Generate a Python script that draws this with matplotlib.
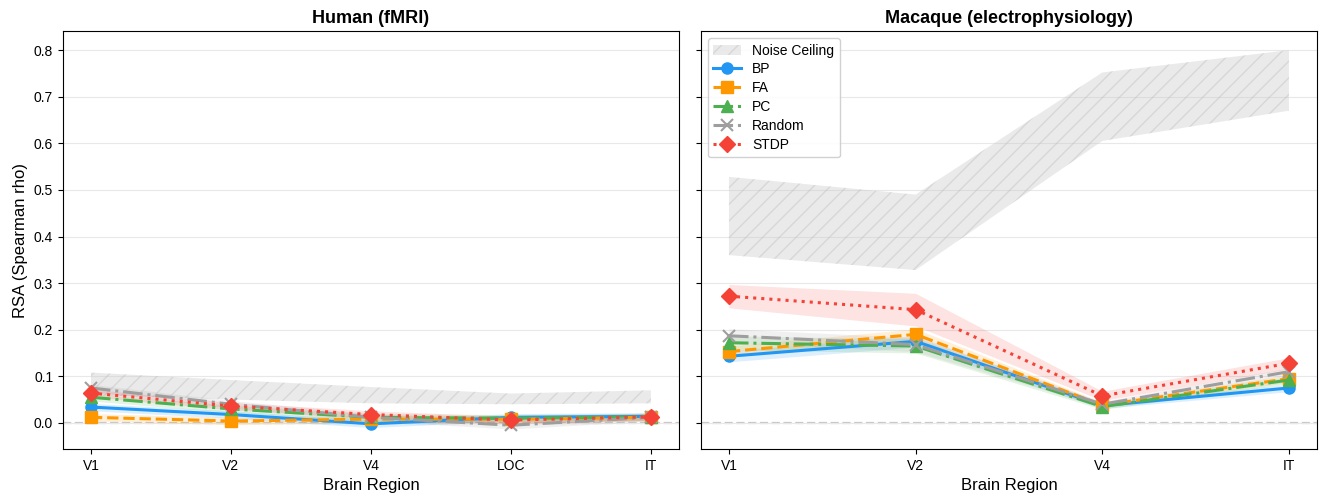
import matplotlib
matplotlib.use("Agg")
import matplotlib.pyplot as plt
import numpy as np

plt.rcParams['font.family'] = ['Liberation Sans', 'DejaVu Sans']

human_regions = ["V1", "V2", "V4", "LOC", "IT"]
macaque_regions = ["V1", "V2", "V4", "IT"]
methods = ["BP", "FA", "PC", "Random", "STDP"]

human_vals = {
    "BP":     [0.034, 0.018, -0.002, 0.012, 0.014],
    "FA":     [0.012, 0.004, 0.008, 0.008, 0.012],
    "PC":     [0.055, 0.030, 0.012, 0.010, 0.013],
    "Random": [0.075, 0.040, 0.012, -0.005, 0.012],
    "STDP":   [0.064, 0.036, 0.018, 0.006, 0.013],
}
human_err = {
    "BP":     [0.008, 0.008, 0.008, 0.008, 0.008],
    "FA":     [0.008, 0.008, 0.008, 0.008, 0.008],
    "PC":     [0.008, 0.008, 0.008, 0.008, 0.008],
    "Random": [0.008, 0.008, 0.008, 0.008, 0.008],
    "STDP":   [0.008, 0.008, 0.008, 0.008, 0.008],
}
human_nc_low = [0.060, 0.050, 0.042, 0.040, 0.042]
human_nc_high = [0.108, 0.092, 0.077, 0.063, 0.070]

macaque_vals = {
    "BP":     [0.143, 0.175, 0.037, 0.075],
    "FA":     [0.153, 0.190, 0.038, 0.095],
    "PC":     [0.172, 0.165, 0.035, 0.092],
    "Random": [0.187, 0.168, 0.040, 0.110],
    "STDP":   [0.272, 0.243, 0.058, 0.128],
}
macaque_err = {
    "BP":     [0.012, 0.012, 0.006, 0.008],
    "FA":     [0.012, 0.012, 0.006, 0.008],
    "PC":     [0.015, 0.015, 0.006, 0.008],
    "Random": [0.015, 0.015, 0.006, 0.008],
    "STDP":   [0.025, 0.035, 0.010, 0.012],
}
macaque_nc_low = [0.360, 0.328, 0.605, 0.670]
macaque_nc_high = [0.528, 0.490, 0.752, 0.800]

colors = {"BP": "#2196F3", "FA": "#FF9800", "PC": "#4CAF50",
          "Random": "#9E9E9E", "STDP": "#F44336"}
markers = {"BP": "o", "FA": "s", "PC": "^", "Random": "x", "STDP": "D"}
styles = {"BP": "-", "FA": "--", "PC": "-.", "Random": "-.", "STDP": ":"}

fig, axes = plt.subplots(1, 2, figsize=(13.2, 5.0), dpi=100, sharey=True)

def draw(ax, regions, vals, errs, nc_lo, nc_hi, title):
    x = np.arange(len(regions))
    ax.fill_between(x, nc_lo, nc_hi, facecolor="#cccccc", alpha=0.4,
                    hatch="//", edgecolor="#bbbbbb", linewidth=0, label="Noise Ceiling")
    for m in methods:
        v = np.array(vals[m]); e = np.array(errs[m])
        ax.fill_between(x, v - e, v + e, color=colors[m], alpha=0.15, linewidth=0)
        ax.plot(x, v, color=colors[m], marker=markers[m], linestyle=styles[m],
                linewidth=2.2, markersize=8, markeredgewidth=1.5 if m == "Random" else 1,
                label=m)
    ax.axhline(0, color="#c8c8c8", linestyle="--", linewidth=1.6, zorder=0)
    ax.set_xticks(x)
    ax.set_xticklabels(regions)
    ax.set_xlabel("Brain Region", fontsize=12)
    ax.set_title(title, fontsize=13, fontweight="bold")
    ax.grid(axis="y", color="#e8e8e8", linewidth=0.8)
    ax.set_axisbelow(True)

draw(axes[0], human_regions, human_vals, human_err, human_nc_low, human_nc_high, "Human (fMRI)")
draw(axes[1], macaque_regions, macaque_vals, macaque_err, macaque_nc_low, macaque_nc_high,
     "Macaque (electrophysiology)")
axes[0].set_ylabel("RSA (Spearman rho)", fontsize=12)
axes[0].set_ylim(-0.056, 0.841)
axes[0].set_yticks(np.arange(0, 0.81, 0.1))
axes[1].legend(loc="upper left", fontsize=10, framealpha=0.9, labelspacing=0.35)

fig.subplots_adjust(left=0.0477, right=0.9977, bottom=0.102, top=0.938, wspace=0.0357)
fig.savefig("out.png", dpi=100)
